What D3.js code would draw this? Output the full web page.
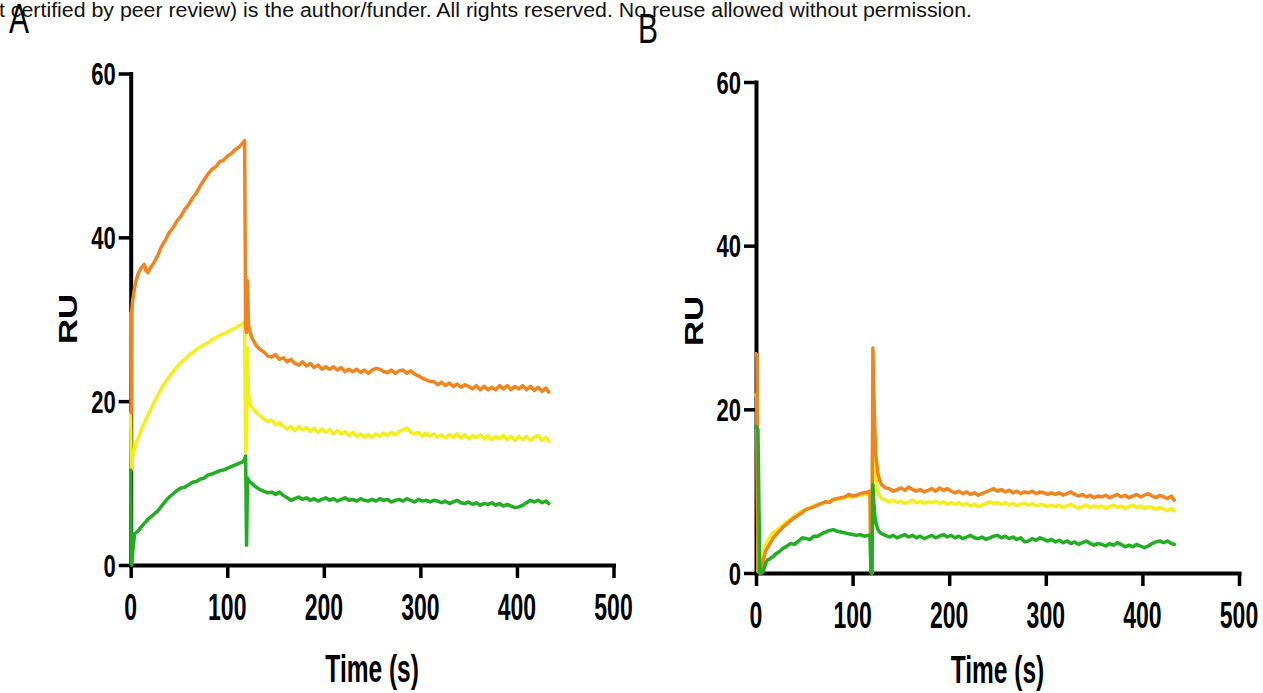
<!DOCTYPE html>
<html>
<head>
<meta charset="utf-8">
<script src="https://cdn.jsdelivr.net/npm/d3@7"></script>
<style>
  html, body { margin: 0; padding: 0; background: #fff; overflow: hidden; }
  svg { display: block; }
</style>
</head>
<body>
<svg id="fig" width="1263" height="693"></svg>
<script>
// Sampling times (s), shared by every sensorgram
const time = [
  0, 0.5, 1, 2, 4, 6, 8, 10, 12, 14, 16, 18, 20,
  24, 28, 32, 36, 40, 44, 48, 52, 56, 60, 64, 68, 72, 76, 80, 84, 88, 92, 96, 100, 104, 108, 112, 116,
  118, 119, 120, 121, 122, 123, 124, 126, 128,
  130, 134, 138, 142, 146, 150, 154, 158, 162, 166, 170, 174, 178, 182, 186, 190, 194, 198, 202,
  206, 210, 214, 218, 222, 226, 230, 234, 238, 242, 246, 250, 254, 258, 262, 266, 270, 274, 278,
  282, 286, 290, 294, 298, 302, 306, 310, 314, 318, 322, 326, 330, 334, 338, 342, 346, 350, 354,
  358, 362, 366, 370, 374, 378, 382, 386, 390, 394, 398, 402, 406, 410, 414, 418, 422, 426, 430,
  433
];

// Panel A responses (RU)
const orangeA = [
  30.8, 18.6, 31.0, 32.3, 33.8, 34.9, 35.6, 36.1, 36.4, 36.7, 35.9, 35.7, 36.2,
  36.9, 37.8, 38.9, 39.7, 40.6, 41.2, 42.0, 42.6, 43.4, 44.0, 44.8, 45.4, 46.3, 47.0, 47.7, 48.3, 48.6, 49.2, 49.4, 49.9, 50.2, 50.7, 51.0, 51.5,
  51.8, 29.0, 28.4, 34.7, 29.3, 28.8, 28.3, 27.6, 27.2,
  26.8, 26.3, 26.0, 25.5, 25.4, 25.7, 25.1, 25.3, 24.8, 25.1, 24.6, 24.4, 24.8, 24.3, 24.6, 24.1, 24.4, 23.9, 24.2,
  23.9, 24.2, 23.8, 24.1, 23.6, 23.9, 23.6, 23.9, 23.5, 23.8, 23.4, 23.8, 24.0, 23.9, 23.6, 23.5, 23.8, 23.4, 23.7,
  23.8, 23.4, 23.7, 23.3, 23.1, 22.8, 22.6, 22.4, 22.4, 22.0, 22.3, 21.9, 22.2, 21.8, 22.1, 21.7, 22.0, 21.8, 21.5,
  21.9, 21.4, 21.8, 21.4, 21.7, 21.4, 21.9, 21.5, 21.9, 21.4, 21.8, 21.5, 21.9, 21.4, 21.8, 21.3, 21.7, 21.2, 21.6,
  21.1
];
const yellowA = [
  18.6, 11.6, 12.5, 13.2, 14.2, 15.0, 15.6, 16.2, 16.8, 17.3, 17.8, 18.3, 18.8,
  19.8, 20.7, 21.6, 22.3, 23.0, 23.6, 24.2, 24.7, 25.1, 25.6, 25.9, 26.3, 26.6, 26.9, 27.1, 27.5, 27.7, 28.0, 28.2, 28.4, 28.7, 28.9, 29.2, 29.4,
  29.7, 13.8, 14.6, 26.5, 21.0, 19.9, 19.5, 19.2, 18.9,
  18.6, 18.2, 17.8, 17.5, 17.7, 17.1, 17.4, 16.9, 16.6, 16.9, 16.4, 16.9, 16.5, 16.8, 16.3, 16.7, 16.2, 16.6, 16.2,
  16.5, 16.0, 16.4, 16.0, 16.3, 15.8, 16.2, 15.7, 16.0, 15.6, 15.9, 15.6, 16.0, 15.7, 16.1, 15.8, 16.2, 15.9, 16.3,
  16.5, 16.7, 16.2, 16.0, 16.2, 15.7, 16.1, 15.7, 16.0, 15.6, 15.9, 15.5, 15.9, 15.6, 16.0, 15.5, 15.9, 15.4, 15.8,
  15.5, 15.9, 15.4, 15.8, 15.3, 15.7, 15.4, 15.8, 15.3, 15.7, 15.2, 15.7, 15.3, 15.7, 15.2, 15.6, 15.8, 15.2, 15.6,
  15.1
];
const greenA = [
  11.6, 0.1, 0.0, 1.5, 3.8, 4.0, 4.2, 4.5, 4.8, 5.1, 5.3, 5.6, 5.8,
  6.2, 6.6, 7.2, 7.8, 8.3, 8.7, 9.1, 9.4, 9.5, 9.8, 10.1, 10.2, 10.5, 10.6, 11.0, 11.1, 11.3, 11.5, 11.6, 11.8, 12.0, 12.2, 12.4, 12.6,
  12.9, 13.3, 2.4, 10.6, 10.4, 10.2, 10.1, 9.9, 9.7,
  9.5, 9.2, 9.0, 8.8, 8.9, 8.6, 8.9, 8.5, 8.2, 7.9, 8.1, 8.3, 8.0, 8.2, 7.9, 8.1, 7.8, 8.0, 8.2,
  7.9, 8.1, 7.8, 8.0, 8.2, 7.9, 8.0, 7.8, 8.1, 7.9, 7.8, 8.0, 7.8, 8.1, 7.9, 8.0, 7.7, 7.9, 8.0,
  7.8, 8.1, 7.9, 7.7, 8.0, 7.8, 7.9, 7.7, 7.9, 7.8, 7.6, 7.8, 7.5, 7.7, 7.9, 7.6, 7.5, 7.7, 7.4,
  7.6, 7.3, 7.5, 7.4, 7.6, 7.3, 7.5, 7.2, 7.4, 7.2, 7.0, 7.1, 7.3, 7.6, 7.9, 7.7, 7.9, 7.6, 7.8,
  7.5
];

// Panel B responses (RU)
const orangeB = [
  26.8, 26.7, 26.4, 0.3, 0.0, 0.3, 1.8, 2.7, 3.1, 3.5, 3.9, 4.3, 4.6,
  5.1, 5.6, 6.0, 6.4, 6.8, 7.1, 7.4, 7.8, 7.9, 8.1, 8.3, 8.5, 8.7, 8.6, 9.0, 9.1, 9.2, 9.3, 9.6, 9.4, 9.5, 9.7, 9.8, 9.9,
  10.0, 0.2, 0.0, 27.5, 22.0, 17.5, 14.5, 12.3, 11.3,
  10.8, 10.4, 10.3, 10.0, 10.2, 10.4, 10.1, 10.5, 10.2, 10.0, 10.2, 9.9, 10.1, 10.3, 10.0, 10.4, 10.1, 10.3, 10.0,
  9.8, 10.0, 9.7, 9.9, 9.6, 9.8, 9.5, 9.7, 9.9, 10.1, 10.3, 10.0, 10.2, 9.9, 10.1, 9.8, 10.0, 9.7, 9.9,
  9.8, 10.0, 9.7, 9.9, 9.8, 9.6, 9.8, 9.6, 9.8, 9.5, 9.7, 9.9, 9.6, 9.4, 9.6, 9.3, 9.5, 9.2, 9.4,
  9.3, 9.5, 9.2, 9.4, 9.6, 9.3, 9.5, 9.2, 9.4, 9.6, 9.3, 9.5, 9.7, 9.4, 9.2, 9.5, 9.3, 9.1, 9.4,
  8.9
];
const yellowB = [
  21.8, 21.6, 21.5, 0.2, 0.0, 0.6, 2.4, 3.4, 3.9, 4.3, 4.7, 5.0, 5.1,
  5.5, 5.9, 6.3, 6.6, 7.0, 7.3, 7.6, 7.8, 8.0, 8.2, 8.4, 8.5, 8.7, 8.8, 8.9, 9.0, 9.1, 9.2, 9.3, 9.3, 9.4, 9.5, 9.6, 9.6,
  9.7, 0.2, 0.0, 21.0, 17.0, 13.5, 11.5, 10.0, 9.4,
  9.1, 8.9, 8.7, 8.9, 8.6, 8.8, 8.5, 8.7, 8.9, 8.6, 8.8, 8.5, 8.7, 8.6, 8.8, 8.5, 8.7, 8.4, 8.6,
  8.4, 8.6, 8.3, 8.5, 8.2, 8.4, 8.1, 8.3, 8.5, 8.7, 8.5, 8.6, 8.4, 8.6, 8.3, 8.5, 8.2, 8.4, 8.5,
  8.3, 8.5, 8.2, 8.4, 8.3, 8.1, 8.3, 8.1, 8.3, 8.0, 8.2, 8.4, 8.1, 7.9, 8.1, 8.3, 8.0, 8.2, 8.0,
  8.2, 7.9, 8.1, 8.3, 8.0, 8.2, 7.9, 8.1, 8.3, 8.0, 8.2, 7.9, 8.1, 8.0, 7.8, 8.0, 7.8, 7.6, 7.9,
  7.6
];
const greenB = [
  17.9, 17.8, 17.7, 17.5, 0.0, 0.0, 0.4, 1.2, 1.6, 1.7, 1.9, 2.0, 2.3,
  2.6, 3.0, 3.3, 3.6, 3.5, 3.9, 4.3, 4.2, 4.1, 4.5, 4.5, 4.8, 5.0, 5.2, 5.3, 5.1, 5.0, 4.9, 4.8, 4.7, 4.6, 4.7, 4.5, 4.6,
  4.6, 0.2, 0.0, 10.8, 8.5, 7.0, 6.2, 5.4, 5.0,
  4.8, 4.6, 4.4, 4.6, 4.3, 4.5, 4.7, 4.4, 4.6, 4.3, 4.5, 4.2, 4.4, 4.6, 4.3, 4.5, 4.7, 4.4, 4.6,
  4.3, 4.5, 4.2, 4.4, 4.6, 4.3, 4.2, 4.4, 4.1, 4.3, 4.5, 4.6, 4.3, 4.5, 4.2, 4.4, 4.1, 4.3, 3.8,
  3.9, 4.2, 4.0, 4.3, 4.1, 3.9, 4.1, 3.8, 4.0, 3.7, 3.9, 3.6, 3.8, 3.5, 3.7, 3.9, 3.6, 3.4, 3.6,
  3.5, 3.3, 3.6, 3.4, 3.7, 3.5, 3.2, 3.4, 3.2, 3.5, 3.3, 3.1, 3.3, 3.6, 3.8, 3.9, 3.7, 3.9, 3.6,
  3.5
];

// Axis ticks and labels
const xTicks = [0, 100, 200, 300, 400, 500];
const yTicks = [0, 20, 40, 60];
const xTitle = "Time (s)";
const yTitle = "RU";
const banner = "t certified by peer review) is the author/funder. All rights reserved. No reuse allowed without permission.";

const colour = { orange: "#ef8520", yellow: "#f3ef1e", green: "#22ad22" };
const FONT = "'Liberation Sans', Arial, Helvetica, sans-serif";

const svg = d3.select("#fig");

// banner line across the top
svg.append("text")
  .attr("transform", "translate(-1,17) scale(1,1.12)")
  .attr("font-family", FONT).attr("font-size", 18)
  .attr("textLength", 973).attr("lengthAdjust", "spacingAndGlyphs")
  .attr("fill", "#111")
  .text(banner);

// helper: scaled text (the figure uses tall, condensed lettering)
function label(g, str, x, y, o) {
  const tr = `translate(${x},${y})` + (o.rotate ? ` rotate(${o.rotate})` : "") +
             ` scale(${o.sx || 1},${o.sy || 1})`;
  return g.append("text")
    .attr("transform", tr)
    .attr("text-anchor", o.anchor || "middle")
    .attr("font-family", FONT)
    .attr("font-weight", o.weight || "bold")
    .attr("font-size", o.size)
    .attr("fill", "#000")
    .text(str);
}

const panels = [
  { letter: "A", letterPos: [9, 33], series: { yellow: yellowA, orange: orangeA, green: greenA },
    xr: [130.7, 613.5], yr: [565, 73.5], ruPos: [77, 319], titleY: 682 },
  { letter: "B", letterPos: [638, 43], series: { yellow: yellowB, orange: orangeB, green: greenB },
    xr: [756, 1239], yr: [573, 82], ruPos: [703, 321], titleY: 683 }
];

panels.forEach(p => {
  const g = svg.append("g");
  const x = d3.scaleLinear().domain([0, 500]).range(p.xr);
  const y = d3.scaleLinear().domain([0, 60]).range(p.yr);

  // axes (traces are drawn over them)
  const xAxis = g.append("g").attr("transform", `translate(0,${p.yr[0]})`)
    .call(d3.axisBottom(x).tickValues(xTicks).tickSize(13).tickSizeOuter(0).tickFormat(""));
  const yAxis = g.append("g").attr("transform", `translate(${p.xr[0]},0)`)
    .call(d3.axisLeft(y).tickValues(yTicks).tickSize(12).tickSizeOuter(0).tickFormat(""));
  [xAxis, yAxis].forEach(a => {
    a.select(".domain").attr("stroke", "#000").attr("stroke-width", 4).attr("stroke-linecap", "square");
    a.selectAll(".tick line").attr("stroke", "#000").attr("stroke-width", 3.5);
  });

  // sensorgram traces
  const line = d3.line().x(d => x(d[0])).y(d => y(d[1]));
  ["yellow", "orange", "green"].forEach(k => {
    g.append("path")
      .datum(d3.zip(time, p.series[k]))
      .attr("d", line)
      .attr("fill", "none")
      .attr("stroke", colour[k])
      .attr("stroke-width", 3.5)
      .attr("stroke-linejoin", "round")
      .attr("stroke-linecap", "round");
  });

  // tick labels
  xTicks.forEach(v => label(g, String(v), x(v), p.yr[0] + 55, { size: 23, sy: 1.6 }));
  yTicks.forEach(v => label(g, String(v), p.xr[0] - 15, y(v) + 11.5, { size: 22, sy: 1.46, anchor: "end" }));

  // axis titles
  label(g, xTitle, (p.xr[0] + p.xr[1]) / 2, p.titleY, { size: 24.5, sy: 1.6 });
  label(g, yTitle, p.ruPos[0], p.ruPos[1], { size: 26.5, sx: 1.31, rotate: -90 });

  // panel letter
  label(svg, p.letter, p.letterPos[0], p.letterPos[1], { size: 30, sy: 1.4, anchor: "start", weight: "normal" });
});
</script>
</body>
</html>
